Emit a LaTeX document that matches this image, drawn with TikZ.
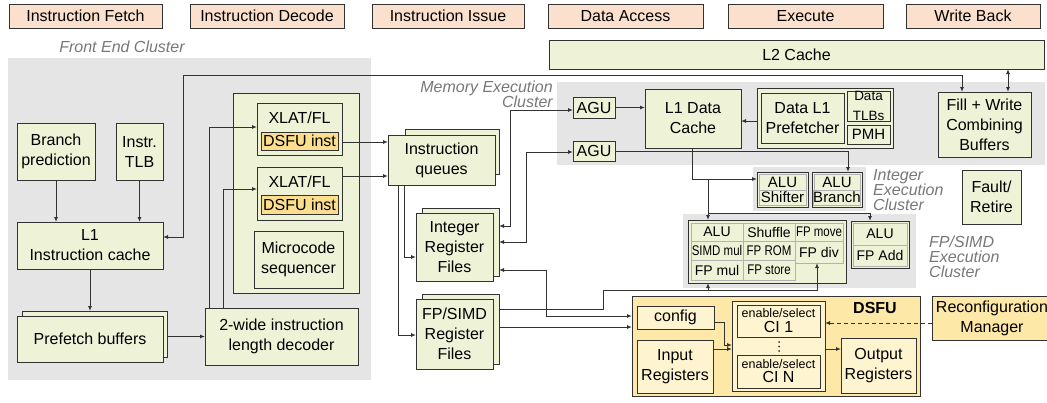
\documentclass[tikz,border=0pt]{standalone}
\usepackage{fontspec}
\setmainfont{Liberation Sans}
\newfontfamily\narrowfont[FakeStretch=0.82]{Liberation Sans}
\usetikzlibrary{arrows.meta}
\definecolor{peach}{RGB}{252,224,206}
\definecolor{lgreen}{RGB}{238,243,215}
\definecolor{bggray}{RGB}{229,229,229}
\definecolor{gold}{RGB}{253,232,168}
\definecolor{cream}{RGB}{255,244,208}
\definecolor{instor}{RGB}{252,222,140}
\definecolor{lbl}{RGB}{120,120,120}
\definecolor{edge}{RGB}{50,50,50}
\newcommand{\mybox}[7]{%
 \pgfmathsetmacro\bxcx{(#3+#5)/2}%
 \pgfmathsetmacro\bxcy{(#4+#6)/2}%
 \pgfmathsetmacro\bxw{#5-#3}%
 \pgfmathsetmacro\bxh{#6-#4}%
 \node[#1, minimum width=\bxw pt, minimum height=\bxh pt] (#2) at (\bxcx,\bxcy) {#7};}
\tikzset{
 bxbase/.style={inner sep=0pt, outer sep=0pt, align=center, font=\fontsize{16}{20}\selectfont, text=black},
 stage/.style={bxbase, fill=peach, draw=edge, line width=0.9pt},
 gbox/.style={bxbase, fill=lgreen, draw=edge, line width=1pt},
 fpcell/.style={bxbase, fill=lgreen, draw=gray!60, line width=0.8pt, font=\fontsize{14}{14}\selectfont},
 instbox/.style={bxbase, fill=instor, draw=edge, line width=0.9pt},
 goldbox/.style={bxbase, fill=gold, draw=edge, line width=1pt},
 creambox/.style={bxbase, fill=cream, draw=edge, line width=0.9pt},
 clusterbg/.style={fill=bggray, draw=none, inner sep=0pt, outer sep=0pt},
 clab/.style={font=\fontsize{16}{15}\selectfont\itshape, text=lbl, inner sep=0pt},
 wire/.style={draw=edge, line width=1pt},
 warr/.style={wire, -{Latex[length=5pt,width=4pt]}},
 darr/.style={wire, {Latex[length=5pt,width=4pt]}-{Latex[length=5pt,width=4pt]}},
}
\begin{document}
\begin{tikzpicture}[x=1pt,y=-1pt]
\useasboundingbox (0,0) rectangle (1047,402);
\fill[white] (0,0) rectangle (1047,402);

% pipeline stages
\mybox{stage}{s1}{9}{4}{162}{28}{Instruction Fetch}
\mybox{stage}{s2}{190}{4}{344}{28}{Instruction Decode}
\mybox{stage}{s3}{372}{4}{524}{28}{Instruction Issue}
\mybox{stage}{s4}{548}{4}{703}{28}{Data Access}
\mybox{stage}{s5}{728}{4}{883}{28}{Execute}
\mybox{stage}{s6}{906}{4}{1040}{28}{Write Back}

\mybox{gbox}{l2}{549}{40}{1044}{69}{L2 Cache}

% cluster backgrounds
\mybox{clusterbg}{febg}{8}{58}{371}{380}{}
\mybox{clusterbg}{mebg}{557}{82}{1045}{165}{}
\mybox{clusterbg}{iebg}{753}{167}{866}{211}{}
\mybox{clusterbg}{fpbg}{683}{214}{916}{288}{}

\node[clab] (felab) at (122,47) {Front End Cluster};
\node[clab, align=right, anchor=east] (melab) at (553,94) {Memory Execution\\Cluster};
\node[clab, align=left, anchor=west] (ielab) at (873,190) {Integer\\Execution\\Cluster};
\node[clab, align=left, anchor=west] (fplab) at (929,257) {FP/SIMD\\Execution\\Cluster};

% front end
\mybox{gbox}{br}{17}{123}{95}{180}{Branch\\prediction}
\mybox{gbox}{itlb}{116}{123}{163}{180}{Instr.\\TLB}
\mybox{gbox}{l1i}{17}{222}{163}{269}{L1\\Instruction cache}
\mybox{gbox}{pfb}{22}{311}{167}{357}{}
\mybox{gbox}{pff}{17}{316}{163}{362}{Prefetch buffers}
\mybox{gbox}{tw}{205}{308}{358}{365}{2-wide instruction\\length decoder}
\mybox{gbox}{dec}{233}{93}{359}{293}{}
\mybox{gbox}{x1}{257}{103}{342}{155}{}
\node[bxbase] (x1t) at (299.5,118) {XLAT/FL};
\mybox{instbox}{di1}{261}{132}{338}{150}{DSFU inst}
\mybox{gbox}{x2}{257}{167}{342}{220}{}
\node[bxbase] (x2t) at (299.5,182) {XLAT/FL};
\mybox{instbox}{di2}{261}{195}{338}{214}{DSFU inst}
\mybox{gbox}{mcs}{254}{231}{343}{288}{Microcode\\sequencer}

% issue
\mybox{gbox}{iqb}{405}{129}{499}{174}{}
\mybox{gbox}{iq}{388}{135}{495}{185}{Instruction\\queues}
\mybox{gbox}{irb}{422}{208}{499}{276}{}
\mybox{gbox}{ir}{416}{213}{493}{281}{Integer\\Register\\Files}
\mybox{gbox}{fpb}{422}{294}{499}{364}{}
\mybox{gbox}{fpr}{416}{299}{493}{369}{FP/SIMD\\Register\\Files}

% memory execution
\mybox{gbox}{agu1}{573}{97}{615}{118}{AGU}
\mybox{gbox}{agu2}{573}{141}{615}{161}{AGU}
\mybox{gbox}{l1d}{645}{89}{741}{148}{L1 Data\\Cache}
\mybox{gbox}{pfg}{757}{88}{893}{148}{}
\mybox{gbox}{pf}{761}{93}{844}{143}{Data L1\\Prefetcher}
\mybox{gbox}{dtlb}{847}{91}{890}{121}{\fontsize{13.5}{12}\selectfont Data\\\fontsize{13.5}{12}\selectfont TLBs}
\mybox{gbox}{pmh}{847}{125}{890}{144}{\fontsize{15}{15}\selectfont PMH}
\mybox{gbox}{fwb}{938}{92}{1031}{157}{Fill + Write\\Combining\\Buffers}
\mybox{gbox}{fr}{962}{170}{1021}{224}{Fault/\\Retire}

% integer execution
\mybox{gbox}{ia1}{757}{172}{808}{207}{}
\mybox{fpcell}{ia1a}{759}{174}{806}{190}{\fontsize{15}{15}\selectfont ALU}
\mybox{fpcell}{ia1b}{759}{190}{806}{205}{\fontsize{15}{15}\selectfont Shifter}
\mybox{gbox}{ia2}{812}{172}{862}{207}{}
\mybox{fpcell}{ia2a}{814}{174}{860}{190}{\fontsize{15}{15}\selectfont ALU}
\mybox{fpcell}{ia2b}{814}{190}{860}{205}{\fontsize{15}{15}\selectfont Branch}

% fp/simd execution
\mybox{gbox}{fpbox}{688}{220}{846}{283}{}
\mybox{fpcell}{c11}{691}{223}{743}{241}{ALU}
\mybox{fpcell}{c12}{743}{223}{795}{241}{Shuffle}
\mybox{fpcell}{c13}{795}{223}{843}{241}{\narrowfont FP move}
\mybox{fpcell}{c21}{691}{241}{743}{260}{\narrowfont SIMD mul}
\mybox{fpcell}{c22}{743}{241}{795}{260}{\narrowfont FP ROM}
\mybox{fpcell}{c23}{795}{241}{843}{263}{FP div}
\mybox{fpcell}{c31}{691}{260}{743}{280}{FP mul}
\mybox{fpcell}{c32}{743}{260}{795}{280}{\narrowfont FP store}
\mybox{gbox}{fpadd}{851}{221}{909}{268}{}
\mybox{fpcell}{fa1}{853}{223}{907}{245}{ALU}
\mybox{fpcell}{fa2}{853}{245}{907}{266}{FP Add}

% DSFU
\mybox{goldbox}{dsfu}{632}{296}{920}{396}{}
\node[bxbase, font=\fontsize{16}{16}\selectfont\bfseries] (dsfulab) at (875,308) {DSFU};
\mybox{creambox}{cfg}{637}{306}{714}{329}{config}
\mybox{creambox}{inr}{637}{340}{713}{393}{Input\\Registers}
\mybox{creambox}{cig}{732}{301}{825}{391}{}
\mybox{creambox}{ci1}{737}{305}{820}{337}{}
\node[bxbase, font=\fontsize{12.5}{13}\selectfont] (ci1a) at (778.5,313) {enable/select};
\node[bxbase] (ci1b) at (778.5,327) {CI 1};
\foreach \yy in {342,346.5,351} \fill[edge] (779,\yy) circle (1pt);
\mybox{creambox}{cin}{737}{355}{820}{388}{}
\node[bxbase, font=\fontsize{12.5}{13}\selectfont] (cina) at (778.5,364) {enable/select};
\node[bxbase] (cinb) at (778.5,377) {CI N};
\mybox{creambox}{outr}{841}{338}{916}{393}{Output\\Registers}
\mybox{goldbox}{rc}{932}{296}{1052}{340}{Reconfiguration\\Manager}

% connectors: front end
\draw[warr] (br.south) -- (br.south |- l1i.north);
\draw[warr] (itlb.south) -- (itlb.south |- l1i.north);
\draw[warr] (l1i.south) -- (l1i.south |- pfb.north);
\draw[warr] (tw.west -| pfb.east) -- (tw.west);
\coordinate (t1) at (209,127);
\coordinate (t2) at (223,189);
\draw[warr] (tw.north -| t1) -- (t1) -- (t1 -| x1.west);
\draw[warr] (tw.north -| t2) -- (t2) -- (t2 -| x2.west);
\coordinate (q1) at (380,142);
\coordinate (q2) at (380,176);
\draw[warr] (q1 -| x1.east) -- (q1 -| iq.west);
\draw[warr] (q2 -| x2.east) -- (q2 -| iq.west);
\coordinate (e1) at (183,237);
\coordinate (e2) at (183,75);
\coordinate (e3) at (962,75);
\draw[darr] (e1 -| l1i.east) -- (e1) -- (e2) -- (e3) -- (e3 |- fwb.north);
\coordinate (f1) at (1008,80);
\draw[darr] (f1 |- l2.south) -- (f1 |- fwb.north);

% issue
\coordinate (c1) at (404,257);
\coordinate (c2) at (398,335);
\draw[warr] (c1 |- iq.south) -- (c1) -- (c1 -| ir.west);
\draw[warr] (c2 |- iq.south) -- (c2) -- (c2 -| fpr.west);
\coordinate (a1b) at (510,226);
\coordinate (a1) at (510,110);
\draw[darr] (a1b -| irb.east) -- (a1b) -- (a1) -- (a1 -| agu1.west);
\coordinate (a2b) at (526,242);
\coordinate (a2) at (526,152);
\draw[darr] (a2b -| irb.east) -- (a2b) -- (a2) -- (a2 -| agu2.west);
\coordinate (k1) at (546,270);
\coordinate (k2) at (546,316);
\draw[darr] (k1 -| irb.east) -- (k1) -- (k2) -- (k2 -| dsfu.west);
\coordinate (k3) at (600,327);
\draw[warr] (k3 -| fpb.east) -- (k3 -| dsfu.west);
\coordinate (m1) at (603,309);
\coordinate (m2) at (603,290);
\coordinate (m3) at (708,290);
\coordinate (m4) at (817,290);
\draw[warr] (m1 -| fpb.east) -- (m1) -- (m2) -- (m4) -- (m4 |- c23.south);
\draw[warr] (m3) -- (m3 |- fpbox.south);

% memory
\draw[warr] (agu1.east) -- (agu1.east -| l1d.west);
\coordinate (p1) at (750,121);
\draw[warr] (p1 -| pfg.west) -- (p1 -| l1d.east);
\coordinate (b1) at (848,151);
\draw[warr] (b1 -| agu2.east) -- (b1) -- (b1 |- ia2.north);
\coordinate (d1) at (692,179);
\draw[warr] (d1 |- l1d.south) -- (d1) -- (d1 -| ia1.west);
\coordinate (d2) at (708,179);
\coordinate (d3) at (708,213);
\coordinate (d4) at (870,213);
\draw[wire] (d2) -- (d3);
\draw[warr] (d3) -- (d3 |- fpbox.north);
\draw[warr] (d3) -- (d4) -- (d4 |- fpadd.north);

% dsfu internal
\coordinate (g1) at (724,322);
\coordinate (g2) at (724,345);
\draw[warr] (g1 -| cfg.east) -- (g1) -- (g2) -- (g2 -| cig.west);
\coordinate (h1) at (720,349);
\draw[warr] (h1 -| inr.east) -- (h1 -| cig.west);
\draw[warr] (h1 -| cig.east) -- (h1 -| outr.west);
\coordinate (r1) at (900,323);
\draw[warr, dash pattern=on 4pt off 3pt] (r1 -| rc.west) -- (r1 -| cig.east);
\end{tikzpicture}
\end{document}
